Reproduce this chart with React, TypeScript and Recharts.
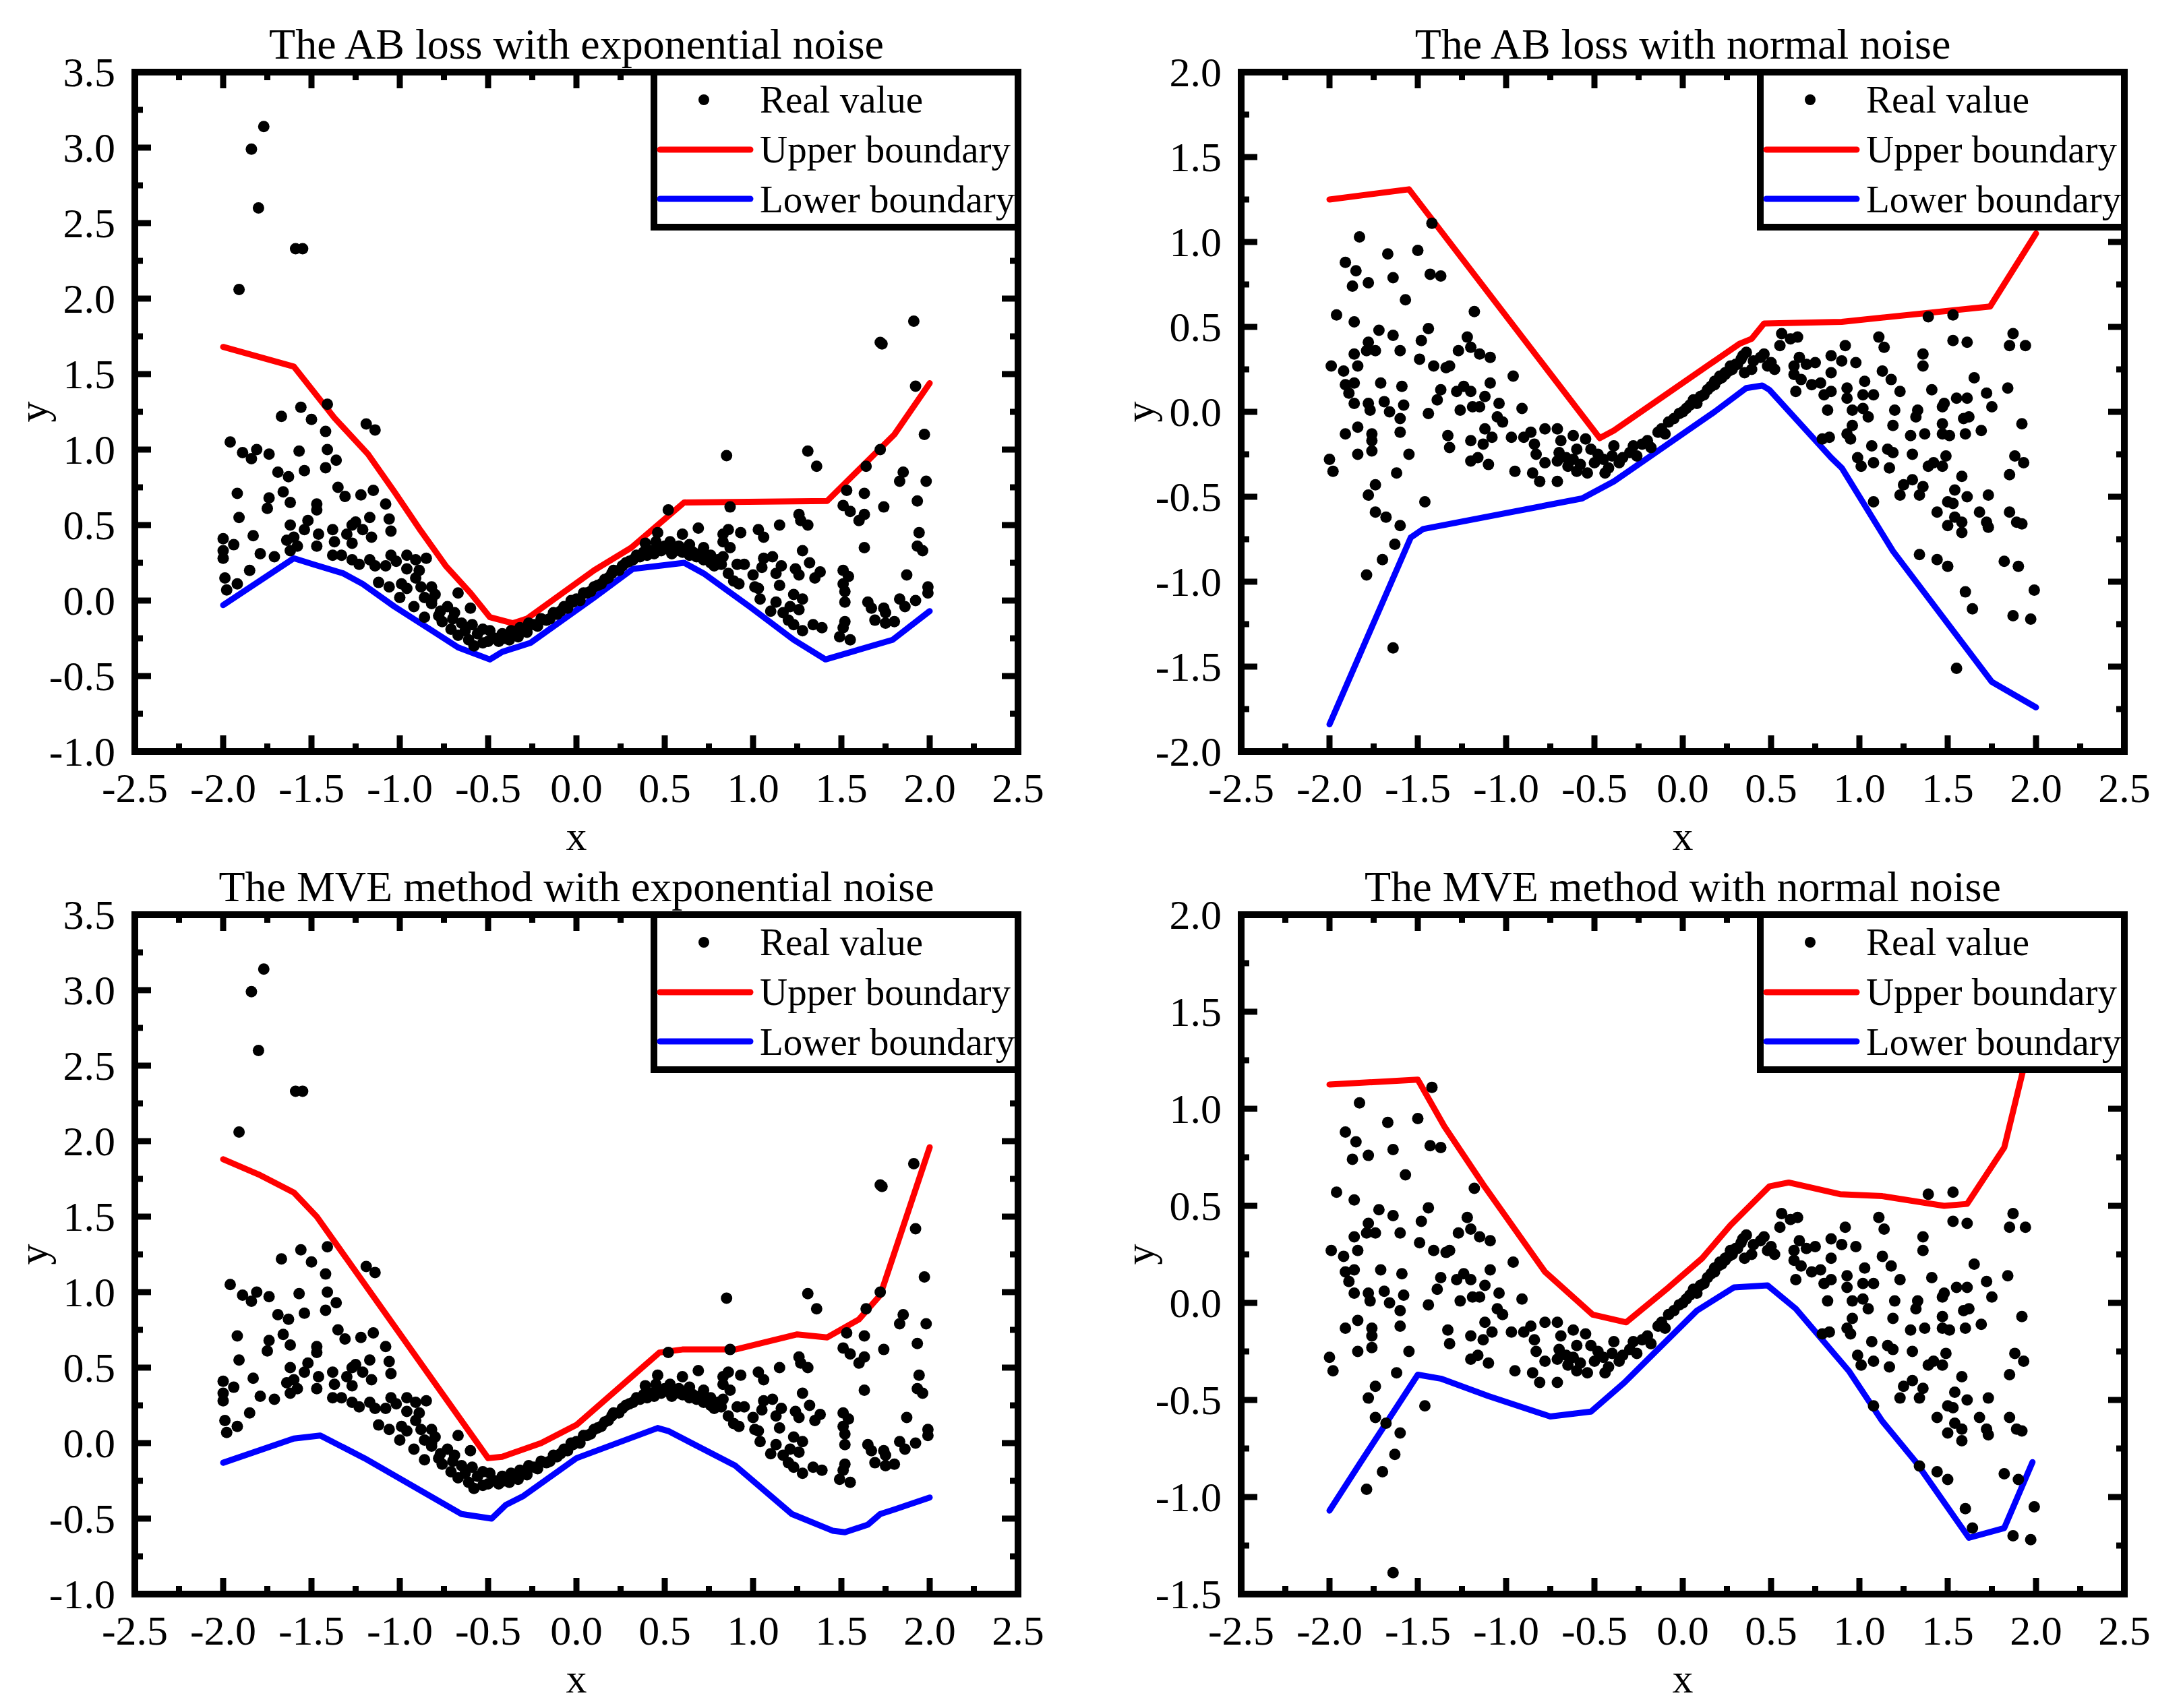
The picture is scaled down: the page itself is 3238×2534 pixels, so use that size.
import React from 'react';
import { ComposedChart, Scatter, Line, XAxis, YAxis, ReferenceArea, Legend } from 'recharts';

const FONT = '"Liberation Serif", "Times New Roman", Times, serif';
const PANEL_W = 1619;
const PANEL_H = 1267;
const PLOT_W = 1310;
const PLOT_H = 1008;

type Pt = [number, number];

const titles = [
  'The AB loss with exponential noise',
  'The AB loss with normal noise',
  'The MVE method with exponential noise',
  'The MVE method with normal noise',
];
const legendLabels = ['Real value', 'Upper boundary', 'Lower boundary'];

const xTicks = [-2.5, -2.25, -2, -1.75, -1.5, -1.25, -1, -0.75, -0.5, -0.25, 0, 0.25, 0.5, 0.75, 1, 1.25, 1.5, 1.75, 2, 2.25, 2.5];
const expYTicks = [-1, -0.75, -0.5, -0.25, 0, 0.25, 0.5, 0.75, 1, 1.25, 1.5, 1.75, 2, 2.25, 2.5, 2.75, 3, 3.25, 3.5];
const normYTicksAB = [-2, -1.75, -1.5, -1.25, -1, -0.75, -0.5, -0.25, 0, 0.25, 0.5, 0.75, 1, 1.25, 1.5, 1.75, 2];
const normYTicksMVE = [-1.5, -1.25, -1, -0.75, -0.5, -0.25, 0, 0.25, 0.5, 0.75, 1, 1.25, 1.5, 1.75, 2];

// observed data, exponential noise
const expPoints: Pt[] = [
  [-1.77, 3.14], [-1.84, 2.99], [-1.8, 2.6], [-1.91, 2.06], [-1.59, 2.33], [-1.55, 2.33],
  [-1.56, 1.28], [-1.5, 1.2], [-1.67, 1.22], [-1.41, 1.3], [-1.42, 1.12], [-1.19, 1.17], [-1.14, 1.13],
  [1.72, 1.71], [1.73, 1.7], [1.91, 1.85], [1.92, 1.42], [1.97, 1.1], [1.72, 1.0], [1.85, 0.85], [1.83, 0.79],
  [-1.96, 1.05], [-1.89, 0.98], [-1.81, 1.0], [-1.84, 0.94], [-1.74, 0.97], [-1.57, 0.99], [-1.41, 1.0],
  [-1.36, 0.93], [-1.42, 0.88], [-1.69, 0.85], [-1.63, 0.82], [-1.54, 0.86],
  [-1.92, 0.71], [-1.66, 0.72], [-1.74, 0.68], [-1.62, 0.65], [-1.75, 0.61], [-1.47, 0.64], [-1.47, 0.6],
  [-1.35, 0.75], [-1.31, 0.69], [-1.22, 0.7], [-1.15, 0.73], [-1.08, 0.64],
  [-1.91, 0.55], [-1.62, 0.5], [-1.52, 0.53], [-1.54, 0.47], [-1.46, 0.44], [-1.38, 0.47], [-1.27, 0.5],
  [-1.25, 0.52], [-1.17, 0.55], [-1.21, 0.47], [-1.16, 0.42], [-1.06, 0.54], [-1.05, 0.46],
  [-2.0, 0.41], [-1.94, 0.37], [-2.0, 0.33], [-2.0, 0.28], [-1.83, 0.43], [-1.79, 0.31], [-1.71, 0.29],
  [-1.64, 0.4], [-1.6, 0.42], [-1.58, 0.36], [-1.62, 0.33], [-1.47, 0.36], [-1.37, 0.39], [-1.3, 0.44],
  [-1.27, 0.38], [-1.38, 0.3], [-1.33, 0.3], [-1.27, 0.27], [-1.23, 0.24], [-1.17, 0.27], [-1.14, 0.23],
  [-1.05, 0.3], [-1.08, 0.23], [-1.02, 0.26], [-0.96, 0.3], [-0.91, 0.27], [-0.85, 0.28], [-0.96, 0.21], [-0.89, 0.2],
  [-1.99, 0.15], [-1.92, 0.11], [-1.98, 0.07], [-1.85, 0.2], [-1.12, 0.12], [-1.06, 0.09], [-0.99, 0.11],
  [-1.0, 0.02], [-0.96, 0.08], [-0.91, 0.15], [-0.88, 0.09], [-0.82, 0.09], [-0.92, -0.04], [-0.86, 0.02],
  [-0.82, 0.0], [-0.86, -0.11], [-0.77, -0.07], [-0.69, -0.08], [-0.76, -0.14], [-0.71, -0.19], [-0.67, -0.23],
  [-0.67, 0.05], [-0.6, -0.05], [-0.59, -0.16], [-0.61, -0.26], [-0.53, -0.19], [-0.49, -0.2], [-0.53, -0.28],
  [-0.46, -0.25], [-0.41, -0.25], [-0.35, -0.22], [-0.3, -0.2], [-0.24, -0.16], [-0.17, -0.13], [-0.09, -0.07],
  [-0.02, -0.01], [0.06, 0.05], [0.14, 0.11], [0.21, 0.2],
  [-0.44, -0.27], [-0.42, -0.22], [-0.38, -0.26], [-0.37, -0.2], [-0.33, -0.24], [-0.32, -0.18], [-0.28, -0.21],
  [-0.27, -0.15], [-0.22, -0.17], [-0.2, -0.12], [-0.15, -0.12], [-0.13, -0.08], [-0.11, -0.09], [-0.07, -0.04],
  [-0.05, -0.05], [-0.03, 0.0], [0.0, 0.01], [0.02, 0.0], [0.04, 0.05], [0.08, 0.06], [-0.5, -0.27], [-0.56, -0.22],
  [-0.58, -0.3], [-0.63, -0.2], [-0.65, -0.15], [-0.7, -0.12], [-0.73, -0.04], [-0.78, -0.1], [-0.8, 0.04], [-0.82, -0.02],
  [0.1, 0.09], [0.12, 0.1], [0.16, 0.14], [0.18, 0.15], [0.2, 0.18], [0.24, 0.2], [0.26, 0.23], [0.28, 0.25],
  [0.3, 0.26], [0.32, 0.27], [0.34, 0.3], [0.36, 0.29], [0.38, 0.32], [0.4, 0.3], [0.42, 0.33], [0.44, 0.31],
  [0.46, 0.35], [0.48, 0.33], [0.5, 0.36], [0.52, 0.34], [0.54, 0.31], [0.56, 0.33], [0.58, 0.36], [0.6, 0.32],
  [0.62, 0.34], [0.64, 0.3], [0.66, 0.32], [0.68, 0.29], [0.7, 0.31], [0.72, 0.27], [0.74, 0.29], [0.76, 0.25],
  [0.78, 0.23], [0.39, 0.38], [0.45, 0.39], [0.53, 0.39], [0.64, 0.37], [0.72, 0.35], [0.76, 0.3], [0.8, 0.27],
  [0.52, 0.6], [0.46, 0.45], [0.6, 0.44], [0.69, 0.48], [0.87, 0.62], [0.85, 0.96], [1.31, 0.99], [1.36, 0.89],
  [1.64, 0.89], [1.98, 0.79], [1.53, 0.73], [1.63, 0.71], [1.93, 0.66], [1.51, 0.63], [1.55, 0.59], [1.74, 0.62],
  [1.63, 0.57], [1.6, 0.53], [1.26, 0.57], [1.27, 0.53], [1.31, 0.5], [1.15, 0.5], [1.03, 0.47], [1.06, 0.42],
  [0.93, 0.45], [0.86, 0.47], [0.83, 0.44], [0.83, 0.39], [0.87, 0.35], [1.94, 0.45], [1.93, 0.36], [1.96, 0.33],
  [1.63, 0.35], [1.28, 0.33], [1.06, 0.28], [1.11, 0.29], [0.91, 0.24], [0.95, 0.24], [0.83, 0.29], [0.82, 0.24],
  [1.05, 0.22], [1.16, 0.23], [1.24, 0.21], [1.32, 0.25], [1.38, 0.19], [1.35, 0.15], [1.26, 0.17], [1.13, 0.18],
  [1.0, 0.17], [0.86, 0.18], [0.89, 0.13], [0.92, 0.11], [1.51, 0.2], [1.54, 0.16], [1.51, 0.11], [1.52, 0.06],
  [1.87, 0.17], [1.99, 0.09], [1.99, 0.05], [1.01, 0.09], [1.03, 0.08], [1.15, 0.1], [1.04, 0.01], [1.23, 0.04],
  [1.28, 0.01], [1.13, -0.01], [1.1, -0.07], [1.17, -0.08], [1.21, -0.04], [1.26, -0.06], [1.2, -0.13], [1.23, -0.16],
  [1.28, -0.2], [1.34, -0.16], [1.39, -0.18], [1.52, -0.01], [1.52, -0.14], [1.51, -0.18], [1.49, -0.24], [1.55, -0.26],
  [1.65, -0.01], [1.67, -0.05], [1.69, -0.13], [1.74, -0.05], [1.75, -0.08], [1.75, -0.15], [1.8, -0.14], [1.83, 0.01],
  [1.86, -0.04], [1.92, 0.0],
];

// observed data, normal noise
const normPoints: Pt[] = [
  [-1.83, 1.03], [-1.67, 0.93], [-1.5, 0.95], [-1.91, 0.88], [-1.85, 0.83], [-1.87, 0.74], [-1.78, 0.76],
  [-1.64, 0.79], [-1.43, 0.81], [-1.37, 0.8], [-1.57, 0.66], [-1.18, 0.59], [-1.96, 0.57], [-1.86, 0.53],
  [-1.72, 0.48], [-1.64, 0.45], [-1.44, 0.49], [-1.48, 0.42], [-1.78, 0.41], [-1.74, 0.36], [-1.79, 0.36],
  [-1.86, 0.34], [-1.6, 0.36], [-1.84, 0.27], [-1.99, 0.27], [-1.92, 0.24], [-1.49, 0.31], [-1.41, 0.27],
  [-1.34, 0.26], [-1.32, 0.27], [-1.27, 0.36], [-1.22, 0.44], [-1.2, 0.38], [-1.15, 0.34], [-1.09, 0.32],
  [-0.96, 0.21], [-1.91, 0.16], [-1.86, 0.17], [-1.89, 0.11], [-1.86, 0.05], [-1.71, 0.17], [-1.59, 0.15],
  [-1.37, 0.13], [-1.28, 0.12], [-1.24, 0.15], [-1.2, 0.12], [-1.09, 0.17], [-1.39, 0.07], [-1.78, 0.05],
  [-1.69, 0.06], [-1.77, 0.01], [-1.66, 0.0], [-1.58, 0.04], [-1.6, -0.04], [-1.26, 0.01], [-1.19, 0.03],
  [-1.15, 0.03], [-1.12, 0.09], [-1.04, 0.05], [-0.91, 0.02], [-1.44, -0.01], [-1.84, -0.09], [-1.91, -0.13],
  [-1.76, -0.13], [-1.76, -0.17], [-1.6, -0.12], [-1.76, -0.23], [-1.84, -0.25], [-1.55, -0.25], [-1.33, -0.14],
  [-1.32, -0.21], [-1.2, -0.17], [-1.13, -0.19], [-1.08, -0.15], [-1.12, -0.1], [-1.05, -0.03], [-1.02, -0.06],
  [-0.97, -0.15], [-0.9, -0.15], [-0.86, -0.12], [-0.84, -0.19], [-0.78, -0.1], [-0.71, -0.1], [-0.69, -0.17],
  [-0.62, -0.14], [-0.55, -0.16], [-0.83, -0.25], [-0.78, -0.3], [-0.71, -0.29], [-0.66, -0.27], [-0.6, -0.22],
  [-0.58, -0.31], [-0.6, -0.35], [-0.54, -0.36], [-0.48, -0.25], [-0.39, -0.2], [-0.34, -0.27], [-0.23, -0.19],
  [-0.14, -0.12], [-0.08, -0.06], [-0.02, -0.01], [0.04, 0.04], [0.1, 0.09], [0.16, 0.15], [0.22, 0.2],
  [0.28, 0.25], [0.31, 0.28], [-1.2, -0.29], [-1.16, -0.27], [-1.1, -0.31], [-0.95, -0.35], [-0.85, -0.36],
  [-0.81, -0.41], [-0.71, -0.41], [-1.62, -0.36], [-1.98, -0.35], [-2.0, -0.28], [-1.74, -0.43], [-1.78, -0.49],
  [-1.46, -0.53], [-1.74, -0.59], [-1.68, -0.62], [-1.6, -0.67], [-1.63, -0.78], [-1.7, -0.87], [-1.79, -0.96],
  [-1.64, -1.39], [-1.42, 1.11],
  [-0.5, -0.3], [-0.45, -0.28], [-0.42, -0.33], [-0.4, -0.26], [-0.36, -0.3], [-0.3, -0.24], [-0.28, -0.2],
  [-0.26, -0.26], [-0.2, -0.17], [-0.18, -0.21], [-0.12, -0.1], [-0.1, -0.13], [-0.05, -0.04], [0.0, 0.0],
  [0.02, 0.02], [0.06, 0.07], [0.08, 0.05], [0.12, 0.1], [0.14, 0.13], [0.18, 0.16], [0.2, 0.19], [0.24, 0.22],
  [0.26, 0.24], [-0.65, -0.32], [-0.52, -0.22], [-0.44, -0.36], [-0.62, -0.28], [-0.7, -0.24],
  [0.18, 0.18], [0.24, 0.23], [0.3, 0.28], [0.35, 0.23], [0.4, 0.3], [0.44, 0.32], [0.48, 0.27], [0.34, 0.33],
  [0.21, 0.21], [0.27, 0.27], [0.33, 0.31], [0.36, 0.35], [0.39, 0.25], [0.46, 0.34], [0.5, 0.29], [0.52, 0.25],
  [0.56, 0.46], [0.55, 0.39], [0.61, 0.43], [0.65, 0.44], [0.63, 0.27], [0.66, 0.32], [0.7, 0.28], [0.75, 0.29],
  [0.63, 0.22], [0.67, 0.19], [0.73, 0.16], [0.78, 0.17], [0.8, 0.1], [0.84, 0.12], [0.84, 0.33], [0.84, 0.23],
  [0.9, 0.3], [0.92, 0.39], [0.64, 0.12], [0.93, 0.14], [0.93, 0.08], [0.98, 0.29], [0.82, 0.01], [0.96, 0.01],
  [1.02, 0.02], [1.05, -0.03], [1.03, 0.18], [1.02, 0.1], [1.08, 0.1], [0.96, -0.08], [0.93, -0.13], [0.95, -0.16],
  [0.83, -0.15], [0.79, -0.16], [0.99, -0.27], [1.01, -0.32], [1.07, -0.2], [1.08, -0.3], [1.08, -0.53],
  [1.11, 0.44], [1.14, 0.38], [1.13, 0.24], [1.18, 0.19], [1.23, 0.12], [1.2, 0.01], [1.19, -0.08], [1.16, -0.22],
  [1.19, -0.24], [1.17, -0.33], [1.29, -0.14], [1.3, -0.25], [1.33, 0.01], [1.32, -0.03], [1.37, -0.13],
  [1.36, 0.34], [1.36, 0.27], [1.39, 0.56], [1.41, 0.13], [1.47, 0.03], [1.48, 0.05], [1.47, -0.07], [1.51, -0.14],
  [1.47, -0.13], [1.25, -0.43], [1.3, -0.4], [1.36, -0.44], [1.23, -0.49], [1.34, -0.49], [1.39, -0.32],
  [1.42, -0.3], [1.47, -0.32], [1.49, -0.26], [1.53, 0.57], [1.53, 0.42], [1.61, 0.41], [1.55, 0.08], [1.61, 0.08],
  [1.65, 0.2], [1.72, 0.11], [1.75, 0.03], [1.59, -0.04], [1.62, -0.03], [1.6, -0.13], [1.69, -0.11], [1.58, -0.38],
  [1.54, -0.46], [1.5, -0.53], [1.53, -0.54], [1.61, -0.5], [1.73, -0.49], [1.44, -0.59], [1.54, -0.62],
  [1.58, -0.65], [1.5, -0.67], [1.58, -0.71], [1.68, -0.59], [1.72, -0.65], [1.73, -0.68], [1.87, 0.46],
  [1.85, 0.39], [1.94, 0.39], [1.84, 0.14], [1.92, -0.07], [1.88, -0.26], [1.93, -0.3], [1.85, -0.37],
  [1.85, -0.59], [1.89, -0.65], [1.92, -0.66], [1.34, -0.84], [1.44, -0.87], [1.5, -0.91], [1.82, -0.88],
  [1.9, -0.91], [1.6, -1.06], [1.64, -1.16], [1.99, -1.05], [1.87, -1.2], [1.97, -1.22], [1.55, -1.51],
];

// interval boundaries
const expUpperAB: Pt[] = [
  [-2, 1.68], [-1.6, 1.55], [-1.37, 1.21], [-1.18, 0.97], [-1.03, 0.72], [-0.88, 0.46], [-0.74, 0.23],
  [-0.6, 0.05], [-0.49, -0.11], [-0.36, -0.15], [-0.28, -0.12], [0.1, 0.2], [0.31, 0.35], [0.61, 0.65],
  [1.42, 0.66], [1.8, 1.1], [2.0, 1.44],
];
const expLowerAB: Pt[] = [
  [-2, -0.03], [-1.6, 0.28], [-1.49, 0.24], [-1.32, 0.18], [-1.21, 0.11], [-1.03, -0.04], [-0.83, -0.19],
  [-0.67, -0.31], [-0.49, -0.39], [-0.42, -0.34], [-0.26, -0.28], [0.1, 0.02], [0.32, 0.21], [0.61, 0.25],
  [0.72, 0.18], [0.98, -0.04], [1.23, -0.26], [1.41, -0.39], [1.79, -0.26], [2.0, -0.07],
];
const normUpperAB: Pt[] = [
  [-2, 1.25], [-1.55, 1.31], [-0.47, -0.155], [-0.39, -0.11], [0.32, 0.4], [0.39, 0.43], [0.46, 0.52],
  [0.9, 0.53], [1.74, 0.62], [2.0, 1.05],
];
const normLowerAB: Pt[] = [
  [-2, -1.84], [-1.54, -0.74], [-1.47, -0.69], [-0.57, -0.51], [-0.39, -0.41], [0.18, 0.0], [0.36, 0.14],
  [0.45, 0.155], [0.49, 0.13], [0.84, -0.27], [0.9, -0.33], [1.19, -0.82], [1.75, -1.59], [2.0, -1.74],
];
const expUpperMVE: Pt[] = [
  [-2, 1.88], [-1.8, 1.78], [-1.6, 1.66], [-1.47, 1.5], [-0.5, -0.1], [-0.42, -0.09], [-0.2, 0.0], [0.0, 0.12],
  [0.47, 0.6], [0.6, 0.62], [0.9, 0.62], [1.25, 0.72], [1.42, 0.7], [1.6, 0.82], [1.72, 0.98], [2.0, 1.96],
];
const expLowerMVE: Pt[] = [
  [-2, -0.13], [-1.6, 0.03], [-1.45, 0.05], [-1.2, -0.1], [-0.65, -0.47], [-0.48, -0.5], [-0.4, -0.41],
  [-0.3, -0.35], [0.0, -0.1], [0.46, 0.1], [0.52, 0.08], [0.9, -0.15], [1.22, -0.47], [1.45, -0.58],
  [1.52, -0.59], [1.65, -0.54], [1.72, -0.47], [1.8, -0.44], [2.0, -0.36],
];
const normUpperMVE: Pt[] = [
  [-2, 1.125], [-1.5, 1.15], [-1.35, 0.91], [-1.13, 0.61], [-0.78, 0.16], [-0.51, -0.06], [-0.32, -0.1],
  [-0.08, 0.08], [0.11, 0.23], [0.27, 0.4], [0.49, 0.6], [0.6, 0.62], [0.89, 0.56], [1.13, 0.55], [1.48, 0.5],
  [1.61, 0.51], [1.82, 0.8], [1.93, 1.21], [2.0, 1.6],
];
const normLowerMVE: Pt[] = [
  [-2, -1.07], [-1.83, -0.83], [-1.5, -0.37], [-1.37, -0.39], [-1.1, -0.48], [-0.75, -0.585], [-0.52, -0.56],
  [-0.33, -0.41], [0.08, -0.04], [0.29, 0.08], [0.48, 0.09], [0.64, -0.03], [0.94, -0.35], [1.13, -0.61],
  [1.32, -0.82], [1.62, -1.21], [1.82, -1.16], [1.98, -0.82],
];

const toRows = (pts: Pt[]) => pts.map(([x, y]) => ({ x, y }));
const isMajor = (v: number) => Math.abs(v * 2 - Math.round(v * 2)) < 1e-6;

// ticks point inwards, mirrored on the top / right edges of the frame
const XTick = (props: any) => {
  const { x, y, payload } = props;
  const v = payload.value;
  const len = isMajor(v) ? 24 : 12;
  return (
    <g>
      <line x1={x} x2={x} y1={y} y2={y - len} stroke="#000" strokeWidth={9} />
      <line x1={x} x2={x} y1={y - PLOT_H} y2={y - PLOT_H + len} stroke="#000" strokeWidth={9} />
      {isMajor(v) && (
        <text x={x} y={y + 75} textAnchor="middle" fontSize={62} fontFamily={FONT} fill="#000">
          {v.toFixed(1)}
        </text>
      )}
    </g>
  );
};

const YTick = (props: any) => {
  const { x, y, payload } = props;
  const v = payload.value;
  const len = isMajor(v) ? 24 : 12;
  return (
    <g>
      <line x1={x} x2={x + len} y1={y} y2={y} stroke="#000" strokeWidth={9} />
      <line x1={x + PLOT_W} x2={x + PLOT_W - len} y1={y} y2={y} stroke="#000" strokeWidth={9} />
      {isMajor(v) && (
        <text x={x - 29} y={y + 21} textAnchor="end" fontSize={62} fontFamily={FONT} fill="#000">
          {v.toFixed(1)}
        </text>
      )}
    </g>
  );
};

const renderDot = (p: any) => <circle cx={p.cx} cy={p.cy} r={8.5} fill="#000" />;

const LegendBox = () => (
  <svg width={550} height={240} style={{ display: 'block' }}>
    <rect x={5} y={5} width={540} height={230} fill="#fff" stroke="#000" strokeWidth={10} />
    <circle cx={79} cy={46} r={8} fill="#000" />
    <line x1={14} x2={148} y1={120} y2={120} stroke="#ff0000" strokeWidth={9} strokeLinecap="round" />
    <line x1={14} x2={148} y1={193} y2={193} stroke="#0000ff" strokeWidth={9} strokeLinecap="round" />
    {legendLabels.map((t, i) => (
      <text key={t} x={162} y={65 + i * 74} fontSize={57} fontFamily={FONT} fill="#000">
        {t}
      </text>
    ))}
  </svg>
);

type PanelProps = {
  left: number;
  top: number;
  margin: { top: number; right: number; bottom: number; left: number };
  title: string;
  points: Pt[];
  upper: Pt[];
  lower: Pt[];
  yDomain: [number, number];
  yTicks: number[];
};

function Panel({ left, top, margin, title, points, upper, lower, yDomain, yTicks }: PanelProps) {
  const cx = margin.left + PLOT_W / 2;
  // axes take 1px each, so the margins shrink by one to keep the plot area in place
  const chartMargin = { ...margin, left: margin.left - 1, bottom: margin.bottom - 1 };
  return (
    <div style={{ position: 'absolute', left, top, width: PANEL_W, height: PANEL_H }}>
      <ComposedChart width={PANEL_W} height={PANEL_H} margin={chartMargin}>
        <XAxis
          type="number"
          dataKey="x"
          domain={[-2.5, 2.5]}
          ticks={xTicks}
          interval={0}
          height={1}
          tickSize={0}
          tickMargin={0}
          axisLine={false}
          tickLine={false}
          allowDataOverflow
          tick={(p: any) => <XTick {...p} />}
        />
        <YAxis
          type="number"
          dataKey="y"
          domain={yDomain}
          ticks={yTicks}
          interval={0}
          width={1}
          tickSize={0}
          tickMargin={0}
          axisLine={false}
          tickLine={false}
          allowDataOverflow
          tick={(p: any) => <YTick {...p} />}
        />
        <Scatter data={toRows(points)} name={legendLabels[0]} shape={renderDot} isAnimationActive={false} />
        <Line
          data={toRows(upper)}
          dataKey="y"
          name={legendLabels[1]}
          type="linear"
          stroke="#ff0000"
          strokeWidth={9}
          strokeLinejoin="round"
          strokeLinecap="round"
          dot={false}
          activeDot={false}
          isAnimationActive={false}
        />
        <Line
          data={toRows(lower)}
          dataKey="y"
          name={legendLabels[2]}
          type="linear"
          stroke="#0000ff"
          strokeWidth={9}
          strokeLinejoin="round"
          strokeLinecap="round"
          dot={false}
          activeDot={false}
          isAnimationActive={false}
        />
        <ReferenceArea
          x1={-2.5}
          x2={2.5}
          y1={yDomain[0]}
          y2={yDomain[1]}
          fill="none"
          stroke="#000"
          strokeWidth={10}
          ifOverflow="visible"
        />
        <Legend
          content={() => <LegendBox />}
          layout="vertical"
          align="center"
          verticalAlign="middle"
          wrapperStyle={{
            left: margin.left + PLOT_W - 545,
            top: margin.top - 5,
            width: 550,
            height: 240,
          }}
        />
      </ComposedChart>
      <svg
        width={PANEL_W}
        height={PANEL_H}
        style={{ position: 'absolute', left: 0, top: 0, pointerEvents: 'none', overflow: 'visible' }}
      >
        <text x={cx} y={margin.top - 20} textAnchor="middle" fontSize={64} fontFamily={FONT} fill="#000">
          {title}
        </text>
        <text x={cx} y={margin.top + PLOT_H + 146} textAnchor="middle" fontSize={62} fontFamily={FONT} fill="#000">
          x
        </text>
        <text
          x={0}
          y={0}
          transform={`translate(${margin.left - 130}, ${margin.top + PLOT_H / 2}) rotate(-90)`}
          textAnchor="middle"
          fontSize={62}
          fontFamily={FONT}
          fill="#000"
        >
          y
        </text>
      </svg>
    </div>
  );
}

export default function App() {
  const mTopL = { top: 107, left: 200, right: 109, bottom: 152 };
  const mTopR = { top: 107, left: 222, right: 87, bottom: 152 };
  const mBotL = { top: 90, left: 200, right: 109, bottom: 169 };
  const mBotR = { top: 90, left: 222, right: 87, bottom: 169 };
  return (
    <div style={{ position: 'absolute', left: 0, top: 0, width: 3238, height: 2534, background: '#fff' }}>
      <Panel left={0} top={0} margin={mTopL} title={titles[0]} points={expPoints}
        upper={expUpperAB} lower={expLowerAB} yDomain={[-1, 3.5]} yTicks={expYTicks} />
      <Panel left={PANEL_W} top={0} margin={mTopR} title={titles[1]} points={normPoints}
        upper={normUpperAB} lower={normLowerAB} yDomain={[-2, 2]} yTicks={normYTicksAB} />
      <Panel left={0} top={PANEL_H} margin={mBotL} title={titles[2]} points={expPoints}
        upper={expUpperMVE} lower={expLowerMVE} yDomain={[-1, 3.5]} yTicks={expYTicks} />
      <Panel left={PANEL_W} top={PANEL_H} margin={mBotR} title={titles[3]} points={normPoints}
        upper={normUpperMVE} lower={normLowerMVE} yDomain={[-1.5, 2]} yTicks={normYTicksMVE} />
    </div>
  );
}
